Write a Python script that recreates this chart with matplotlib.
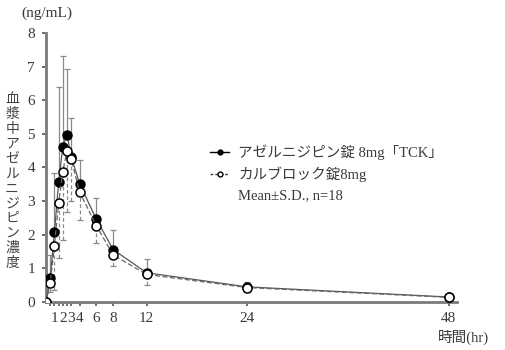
import matplotlib
matplotlib.use("Agg")
import matplotlib.pyplot as plt
from matplotlib.lines import Line2D

plt.rcParams['font.family'] = ['Liberation Serif', 'Noto Sans CJK JP', 'DejaVu Sans']

## 時間 (hr)
hours = [0, 0.5, 1, 1.5, 2, 2.5, 3, 4, 6, 8, 12, 24, 48]

## アゼルニジピン錠 8mg「TCK」 (mean, SD)
tck_mean = [0, 0.70, 2.07, 3.56, 4.62, 4.97, 4.32, 3.52, 2.46, 1.56, 0.87, 0.45, 0.15]
tck_sd = [0, 0.70, 1.76, 2.83, 2.68, 1.96, 1.15, 0.71, 0.62, 0.59, 0.42, 0.15, 0.05]

## カルブロック錠8mg (mean, SD)
cal_mean = [0, 0.56, 1.68, 2.94, 3.88, 4.50, 4.25, 3.27, 2.27, 1.40, 0.82, 0.43, 0.14]
cal_sd = [0, 0.25, 1.32, 1.63, 2.03, 1.82, 1.25, 0.84, 0.51, 0.33, 0.31, 0.12, 0.04]

tick_pos = [0.5, 1, 1.5, 2, 2.5, 3, 4, 6, 8, 12, 24, 48]
tick_lab = ['', '1', '', '2', '', '3', '4', '6', '8', '12', '24', '48']
labels = ['アゼルニジピン錠 8mg「TCK」', 'カルブロック錠8mg', 'Mean±S.D., n=18']

txt = '#3a3a3a'
gray = '#7a7a7a'

fig = plt.figure(figsize=(5.06, 3.5), dpi=100)
ax = fig.add_axes([0.091, 0.137, 0.812, 0.769])

## SD bars: upper (solid) for TCK, lower (dashed) for Calblock
zeros = [0] * len(hours)
eb1 = ax.errorbar(hours, tck_mean, yerr=[zeros, tck_sd], fmt='none',
                  ecolor='#8a8a8a', elinewidth=0.9, capsize=2.2, capthick=0.9, zorder=2)
eb2 = ax.errorbar(hours, cal_mean, yerr=[cal_sd, zeros], fmt='none',
                  ecolor='#8a8a8a', elinewidth=0.9, capsize=2.2, capthick=0.9, zorder=2)
eb2[2][0].set_linestyle((0, (3, 2)))

ax.plot(hours, tck_mean, '-', color='#555555', lw=0.9, marker='o', ms=6.5,
        mfc='black', mec='black', zorder=4)
ax.plot(hours, cal_mean, '--', color='#666666', lw=0.9, dashes=(4, 2), marker='o', ms=6.5,
        mfc='white', mec='black', mew=1.1, zorder=5)

ax.set_xlim(0, 49)
ax.set_ylim(0, 8)
ax.set_yticks(range(0, 9))
ax.set_xticks(tick_pos)
ax.set_xticklabels(tick_lab)

for s in ['top', 'right']:
    ax.spines[s].set_visible(False)
for s in ['left', 'bottom']:
    ax.spines[s].set_color(gray)
    ax.spines[s].set_linewidth(2)

ax.tick_params(axis='both', direction='out', length=3, width=1.2, color='#555555',
               labelcolor=txt, labelsize=11)
ax.tick_params(axis='x', pad=4)
ax.tick_params(axis='y', pad=5)

## legend
h1 = Line2D([], [], color='black', lw=1, marker='o', ms=3.5, mfc='black', mec='black')
h2 = Line2D([], [], color='#444444', lw=1, ls='--', dashes=(2, 1.5), marker='o', ms=3.5,
            mfc='white', mec='black')
h3 = Line2D([], [], color='none')
leg = ax.legend([h1, h2, h3], labels, loc='upper left', bbox_to_anchor=(0.39, 0.625),
                bbox_transform=fig.transFigure, frameon=False, fontsize=10.5,
                handlelength=1.3, handletextpad=0.6, labelspacing=0.45)
for t in leg.get_texts():
    t.set_color(txt)

fig.text(0.092, 0.962, '(ng/mL)', ha='center', va='center', fontsize=11, color=txt)
fig.text(0.024, 0.483, '\n'.join('血漿中アゼルニジピン濃度'), ha='center', va='center',
         fontsize=10, color='#444444', linespacing=1.08, family=['Noto Sans CJK JP'])
fig.text(0.915, 0.035, '時間(hr)', ha='center', va='center', fontsize=10.5, color=txt)

fig.savefig('out.png', dpi=100)
